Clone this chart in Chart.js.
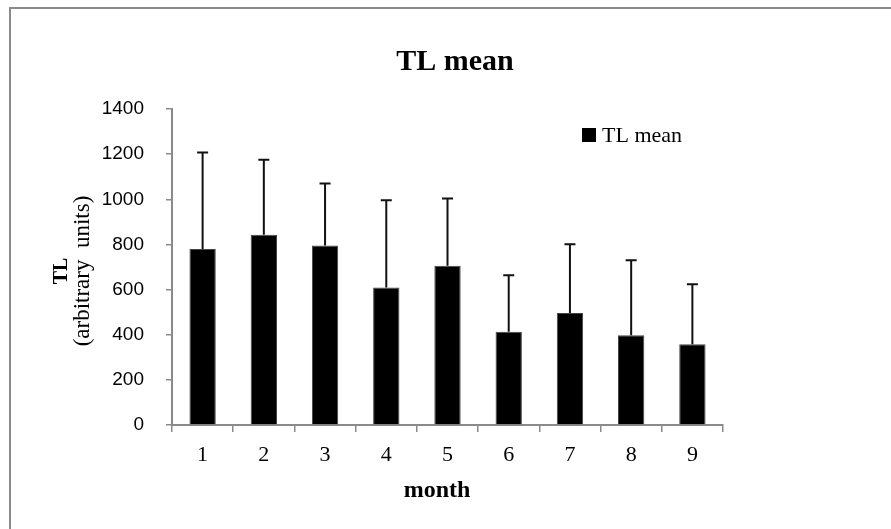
<!DOCTYPE html>
<html>
<head>
<meta charset="utf-8">
<script src="https://cdn.jsdelivr.net/npm/chart.js@4"></script>
<style>
  html, body { margin: 0; padding: 0; background: #fff; overflow: hidden; }
  #wrap { position: relative; width: 891px; height: 529px; overflow: hidden; }
  #frame { position: absolute; left: 9px; top: 7px; width: 1000px; height: 1000px;
           border-left: 2px solid #8a8a8a; border-top: 2px solid #8a8a8a; }
  canvas { position: absolute; left: 0; top: 0; }
</style>
</head>
<body>
<div id="wrap">
  <div id="frame"></div>
  <canvas id="myChart" width="891" height="529"></canvas>
</div>
<script>
let ctx = document.getElementById('myChart');

// values
const months = ['1', '2', '3', '4', '5', '6', '7', '8', '9'];
const tlMean = [780, 843, 795, 609, 706, 413, 496, 398, 358];
const tlError = [427, 332, 275, 387, 297, 251, 305, 332, 266];
const yTicks = [0, 200, 400, 600, 800, 1000, 1200, 1400];

const serif = "'Liberation Serif', 'DejaVu Serif', serif";
const sans = "'Liberation Sans', Arial, sans-serif";

// upper error bars only
const errorBars = {
    id: 'errorBars',
    afterDatasetsDraw(chart) {
        let c = chart.ctx;
        let meta = chart.getDatasetMeta(0);
        let y = chart.scales.y;
        c.save();
        c.strokeStyle = '#111';
        c.lineWidth = 2;
        meta.data.forEach(function (bar, i) {
            let top = y.getPixelForValue(tlMean[i] + tlError[i]);
            c.beginPath();
            c.moveTo(bar.x, bar.y);
            c.lineTo(bar.x, top);
            c.moveTo(bar.x - 5.5, top);
            c.lineTo(bar.x + 5.5, top);
            c.stroke();
        });
        c.restore();
    }
};

// title, axis titles and the legend box
const labelsPlugin = {
    id: 'labelsPlugin',
    afterDraw(chart) {
        let c = chart.ctx;
        let area = chart.chartArea;
        let midY = (area.top + area.bottom) / 2 + 4;
        c.save();
        c.fillStyle = '#000';
        c.textAlign = 'center';
        c.textBaseline = 'middle';

        c.font = 'bold 30px ' + serif;
        c.fillText('TL mean', 455, 62);

        c.save();
        c.translate(62, midY);
        c.rotate(-Math.PI / 2);
        c.font = 'bold 20px ' + serif;
        c.fillText('TL', 0, 0);
        c.restore();

        c.save();
        c.translate(83, midY);
        c.rotate(-Math.PI / 2);
        c.font = '23px ' + serif;
        c.fillText('(arbitrary  units)', 0, 0);
        c.restore();

        c.font = 'bold 24px ' + serif;
        c.fillText('month', 437, 491);

        // legend
        c.fillRect(582, 128, 14, 14);
        c.textAlign = 'left';
        c.font = '22px ' + serif;
        c.fillText(chart.data.datasets[0].label, 602, 136);
        c.restore();
    }
};

let myChart = new Chart(ctx, {
    type: 'bar',
    data: {
        labels: months,
        datasets: [{
            label: 'TL mean',
            data: tlMean,
            backgroundColor: '#000',
            borderColor: '#444',
            borderWidth: 1,
            barPercentage: 0.43,
            categoryPercentage: 1
        }]
    },
    options: {
        responsive: false,
        animation: false,
        layout: {
            padding: { left: 0, right: 168, top: 109, bottom: 0 }
        },
        scales: {
            x: {
                grid: { drawOnChartArea: false, color: '#8a8a8a', lineWidth: 1.5, tickLength: 7, offset: true },
                border: { color: '#8a8a8a', width: 2 },
                ticks: { color: '#000', font: { family: serif, size: 22 }, padding: 10 },
                afterFit: function (scale) { scale.height = 104; }
            },
            y: {
                min: 0,
                max: 1400,
                afterBuildTicks: function (scale) {
                    scale.ticks = yTicks.map(v => ({ value: v }));
                },
                grid: { drawOnChartArea: false, color: '#8a8a8a', lineWidth: 1.5, tickLength: 6 },
                border: { color: '#8a8a8a', width: 2 },
                ticks: {
                    color: '#000',
                    font: { family: sans, size: 19 },
                    padding: 22,
                    callback: function (value) { return String(value); }
                },
                afterFit: function (scale) { scale.width = 172; }
            }
        },
        plugins: {
            legend: { display: false },
            tooltip: { enabled: false },
            title: { display: false }
        }
    },
    plugins: [errorBars, labelsPlugin]
});
</script>
</body>
</html>
